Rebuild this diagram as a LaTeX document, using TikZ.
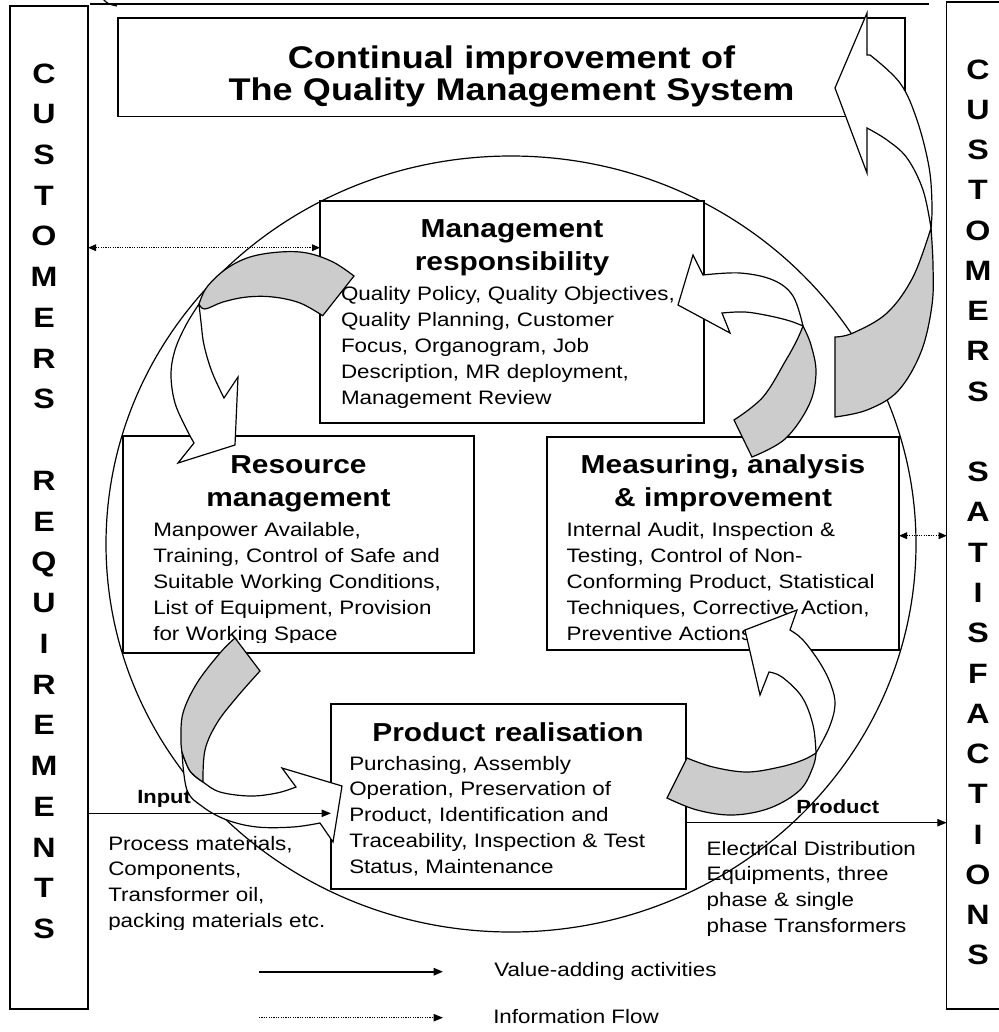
\documentclass[tikz,border=0pt]{standalone}
\usepackage{fontspec}
\setmainfont{Liberation Sans}[FakeStretch=1.15]
\usetikzlibrary{arrows.meta}
\definecolor{backgray}{RGB}{204,204,204}
\begin{document}
\begin{tikzpicture}[x=0.75pt,y=-0.75pt,
  box/.style={draw=black,line width=0.9pt,fill=white,inner sep=0pt,outer sep=0pt},
  bodytxt/.style={inner sep=0pt,outer sep=0pt,anchor=base west,align=left,text width=300pt,font=\fontsize{14.6}{19.4}\selectfont},
  headtxt/.style={inner sep=0pt,anchor=base,align=center,text width=260pt,font=\bfseries\fontsize{19.5}{25}\selectfont},
  titletxt/.style={inner sep=0pt,anchor=base,align=center,text width=560pt,font=\bfseries\fontsize{23.5}{23.8}\selectfont},
  coltxt/.style={inner sep=0pt,anchor=base,align=center,text width=40pt,font=\bfseries\fontsize{21}{30.5}\selectfont},
  lbltxt/.style={inner sep=0pt,anchor=base west,font=\bfseries\fontsize{14.3}{17}\selectfont},
  legtxt/.style={inner sep=0pt,anchor=base west,font=\fontsize{14.6}{17}\selectfont},
  bandwhite/.style={draw=black,fill=white,line width=0.9pt,line join=miter},
  bandgray/.style={draw=black,fill=backgray,line width=0.9pt,line join=miter},
  valflow/.style={line width=0.9pt,-{Triangle[length=7pt,width=5.5pt]}},
  infoflow/.style={line width=0.9pt,dash pattern=on 0.9pt off 0.9pt,{Triangle[length=6pt,width=5pt]}-{Triangle[length=6pt,width=5pt]}},
  infolegend/.style={line width=0.9pt,dash pattern=on 0.9pt off 0.9pt,-{Triangle[length=7pt,width=5.5pt]}},
]
\useasboundingbox (0,0) rectangle (999,1032);

% big cycle
\draw[line width=0.9pt] (511,544) ellipse [x radius=405, y radius=388];

% top line and cut-off mark
\draw[line width=1.6pt] (90,4) -- (929,4);
\draw[line width=0.9pt] (103,-1) .. controls (108,4) .. (117,6);

% customer columns
\node[box,minimum width=58.5pt,minimum height=752.25pt] (custL) at (49,507.5) {};
\node[box,minimum width=49pt,minimum height=755.25pt] (custR) at (979.35,505.5) {};
\node[coltxt,font=\bfseries\fontsize{21}{30.56}\selectfont] (custLtxt) at (44,83)
  {C\\U\\S\\T\\O\\M\\E\\R\\S\\[30.56pt]R\\E\\Q\\U\\I\\R\\E\\M\\E\\N\\T\\S};
\node[coltxt,font=\bfseries\fontsize{21}{30.2}\selectfont] (custRtxt) at (978,79)
  {C\\U\\S\\T\\O\\M\\E\\R\\S\\[30.2pt]S\\A\\T\\I\\S\\F\\A\\C\\T\\I\\O\\N\\S};

% title
\node[box,minimum width=590.25pt,minimum height=73.875pt] (title) at (511.5,67.25) {};
\node[titletxt] (titleT) at (511.5,68.3) {Continual improvement of\\The Quality Management System};

% process boxes
\node[box,minimum width=288pt,minimum height=166.5pt] (mgmt) at (512,312) {};
\node[box,minimum width=263.25pt,minimum height=162.75pt] (res) at (298.5,544.5) {};
\node[box,minimum width=264pt,minimum height=159.75pt] (meas) at (723,543.5) {};
\node[box,minimum width=266.25pt,minimum height=138.75pt] (prod) at (508.5,796.5) {};

\node[headtxt] (mgmtH) at (512,237) {Management\\responsibility};
\node[headtxt] (resH) at (298.5,473) {Resource\\management};
\node[headtxt] (measH) at (723,473.3) {Measuring, analysis\\\& improvement};
\node[headtxt] (prodH) at (508,741.7) {Product realisation};

\node[bodytxt] (mgmtB) at (341,300.7) {Quality Policy, Quality Objectives,\\Quality Planning, Customer\\Focus, Organogram, Job\\Description, MR deployment,\\Management Review};
\begin{scope}
  \clip (125,515) rectangle (472,642.5);
  \node[bodytxt] (resB) at (153.3,536.7) {Manpower Available,\\Training, Control of Safe and\\Suitable Working Conditions,\\List of Equipment, Provision\\for Working Space};
\end{scope}
\begin{scope}
  \clip (549,515) rectangle (897,642);
  \node[bodytxt] (measB) at (566.7,536.7) {Internal Audit, Inspection \&\\Testing, Control of Non-\\Conforming Product, Statistical\\Techniques, Corrective Action,\\Preventive Actions};
\end{scope}
\node[bodytxt] (prodB) at (349.3,770) {Purchasing, Assembly\\Operation, Preservation of\\Product, Identification and\\Traceability, Inspection \& Test\\Status, Maintenance};

% input / output texts
\node[lbltxt] (inL) at (137,803) {Input};
\begin{scope}
  \clip (100,830) rectangle (330,929.5);
  \node[bodytxt] (inB) at (108.3,850) {Process materials,\\Components,\\Transformer oil,\\packing materials etc.};
\end{scope}
\node[lbltxt] (outL) at (796,813) {Product};
\node[bodytxt] (outB) at (706.7,855) {Electrical Distribution\\Equipments, three\\phase \& single\\phase Transformers};

% ---- block arrows ----
% A: management -> resource
\filldraw[bandwhite] plot[smooth,tension=0.6] coordinates {(199,304) (186,325) (175,350) (171,375) (175,403) (186,428) (194,443)}
  -- (178,463) -- (235,445) -- (238,377) -- (224,398)
  -- plot[smooth,tension=0.6] coordinates {(224,398) (212,372) (204,345) (201,322) (199,304)} -- cycle;
\filldraw[bandgray] plot[smooth,tension=0.6] coordinates {(199,304) (207,287) (226,269) (250,257) (280,252) (307,253) (333,262) (354,276)}
  -- (322.7,315.7)
  -- plot[smooth,tension=0.6] coordinates {(322.7,315.7) (300,303) (273,297) (247,297) (223,302) (205,309) (199,304)} -- cycle;

% B: measuring -> management
\filldraw[bandwhite] plot[smooth,tension=0.6] coordinates {(703,275) (740,273) (773,280) (793,296) (803,326)}
  -- plot[smooth,tension=0.6] coordinates {(803,326) (790,321) (770,316) (745,312) (722,313)}
  -- (730,333) -- (678,305) -- (693,255) -- cycle;
\filldraw[bandgray] plot[smooth,tension=0.6] coordinates {(803,326) (811,345) (816,373) (809,405) (785,439) (752,457)}
  -- (734,420)
  -- plot[smooth,tension=0.6] coordinates {(734,420) (763,397) (786,360) (797,340) (803,326)} -- cycle;

% C: continual improvement
\filldraw[bandwhite] plot[smooth,tension=0.6] coordinates {(870,55) (900,83) (917,120) (929,167) (932,205) (931,228)}
  -- plot[smooth,tension=0.6] coordinates {(931,228) (923,190) (907,158) (887,140) (867,128)}
  -- (867,173) -- (835,88) -- (867,13) -- (867,55) -- cycle;
\filldraw[bandgray] plot[smooth,tension=0.6] coordinates {(931,228) (933,265) (932,305) (921,352) (898,391) (867,410) (835,417)}
  -- (835,337)
  -- plot[smooth,tension=0.6] coordinates {(835,337) (853,333) (887,313) (913,277) (931,228)} -- cycle;

% D: resource -> product
\filldraw[bandwhite] plot[smooth,tension=0.6] coordinates {(182,752) (187,790) (203,807) (227,820) (257,827) (293,827) (320,823)}
  -- (333,842) -- (342,786) -- (282,768)
  -- plot[smooth,tension=0.6] coordinates {(296,787) (277,793) (250,796) (220,792) (203,782) (190,771) (182,752)} -- cycle;
\filldraw[bandgray] plot[smooth,tension=0.6] coordinates {(235,638) (220,653) (197,683) (183,713) (181,740) (182,752)}
  -- plot[smooth,tension=0.6] coordinates {(182,752) (190,771) (203,782)}
  -- plot[smooth,tension=0.6] coordinates {(203,782) (205,750) (217,723) (237,697) (260,671)} -- cycle;

% E: product -> measuring
\filldraw[bandwhite] plot[smooth,tension=0.6] coordinates {(790,630) (803,640) (820,663) (831,685) (835,705) (829,728) (816,753)}
  -- plot[smooth,tension=0.6] coordinates {(816,753) (813,725) (802,697) (782,677) (769,672)}
  -- (760,695) -- (745,630) -- (797,610) -- cycle;
\filldraw[bandgray] plot[smooth,tension=0.6] coordinates {(816,753) (813,767) (800,790) (770,808) (733,815) (697,810) (667,798)}
  -- (687,758)
  -- plot[smooth,tension=0.6] coordinates {(687,758) (713,767) (747,772) (780,767) (803,760) (816,753)} -- cycle;

% ---- flows ----
\coordinate (inY) at (0,813.3);
\coordinate (outY) at (0,822.7);
\coordinate (infoA) at (0,247.7);
\coordinate (infoB) at (0,535.7);
\draw[valflow] (custL.east |- inY) -- (prod.west |- inY);
\draw[valflow] (prod.east |- outY) -- (custR.west |- outY);
\draw[infoflow] (custL.east |- infoA) -- (mgmt.west |- infoA);
\draw[infoflow] (meas.east |- infoB) -- (custR.west |- infoB);

% ---- legend ----
\coordinate (legA1) at (259,971.7);
\coordinate (legA2) at (443,971.7);
\coordinate (legB1) at (259,1017.7);
\coordinate (legB2) at (443,1017.7);
\draw[valflow,line width=1.4pt] (legA1) -- (legA2);
\draw[infolegend] (legB1) -- (legB2);
\node[legtxt] (legAt) at (494,976.7) {Value-adding activities};
\node[legtxt] (legBt) at (493,1023) {Information Flow};
\end{tikzpicture}
\end{document}
